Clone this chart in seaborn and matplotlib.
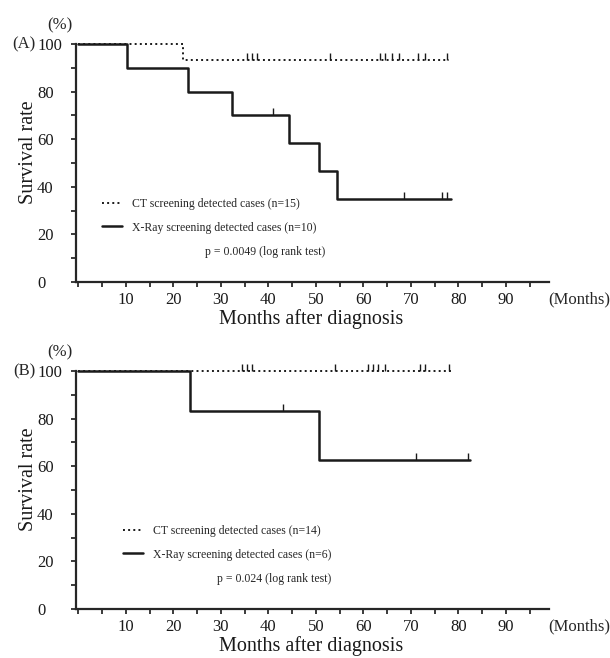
import matplotlib
matplotlib.use("Agg")
import matplotlib.pyplot as plt
from matplotlib.lines import Line2D
from matplotlib.ticker import MultipleLocator
import seaborn as sns

# (A) survival curves
a_ct_time = [0, 22, 78]
a_ct_surv = [100, 93.3, 93.3]
a_ct_cens = [35.5, 36.5, 37.5, 53, 63.5, 64.5, 66, 67.5, 71.5, 73, 77.5]
a_xr_time = [0, 10.3, 23, 32.3, 44.4, 50.6, 54.4, 78.5]
a_xr_surv = [100, 90, 80, 70, 58.3, 46.7, 35, 35]
a_xr_cens_t = [41, 68.5, 76.5, 77.5]
a_xr_cens_s = [70, 35, 35, 35]
a_labels = ["CT screening detected cases (n=15)",
            "X-Ray screening detected cases (n=10)",
            "p = 0.0049 (log rank test)"]

# (B)
b_ct_time = [0, 79]
b_ct_surv = [100, 100]
b_ct_cens = [34.5, 35.5, 36.5, 54, 61, 62, 63, 64.5, 72, 73, 78]
b_xr_time = [0, 23.5, 50.6, 82.5]
b_xr_surv = [100, 83.3, 62.5, 62.5]
b_xr_cens_t = [43, 71, 82]
b_xr_cens_s = [83.3, 62.5, 62.5]
b_labels = ["CT screening detected cases (n=14)",
            "X-Ray screening detected cases (n=6)",
            "p = 0.024 (log rank test)"]

xtick_vals = [10, 20, 30, 40, 50, 60, 70, 80, 90]
ytick_vals = [0, 20, 40, 60, 80, 100]

sns.set_theme(style="ticks")
plt.rcParams['font.family'] = ['Liberation Serif', 'DejaVu Serif']

W, H = 610, 658
fig = plt.figure(figsize=(W / 100, H / 100), dpi=100)
tick_mark = [(0, 0), (0, 1)]


def panel(top, ct_t, ct_s, ct_c, xr_t, xr_s, xr_ct, xr_cs, labels, tag, leg_x, p_x):
    ax = fig.add_axes([76 / W, 1 - (top + 238) / H, 472.75 / W, 238 / H])
    sns.lineplot(x=ct_t, y=ct_s, drawstyle="steps-post", color="k",
                 linestyle=":", linewidth=1.4, errorbar=None, ax=ax)
    sns.lineplot(x=xr_t, y=xr_s, drawstyle="steps-post", color="k",
                 linewidth=1.8, errorbar=None, ax=ax)
    sns.scatterplot(x=ct_c, y=[ct_s[-1]] * len(ct_c), marker=tick_mark, s=90,
                    color="k", edgecolor="k", linewidth=1.0, ax=ax)
    sns.scatterplot(x=xr_ct, y=xr_cs, marker=tick_mark, s=110,
                    color="k", edgecolor="k", linewidth=1.0, ax=ax)
    for art in ax.lines + ax.collections:
        art.set_clip_on(False)

    ax.set_xlim(-0.5, 99)
    ax.set_ylim(0, 100)
    sns.despine(ax=ax)
    for s in ["left", "bottom"]:
        ax.spines[s].set_linewidth(1.6)
    ax.set_xticks(xtick_vals)
    ax.set_xticklabels([str(v) for v in xtick_vals])
    ax.xaxis.set_minor_locator(MultipleLocator(5))
    ax.set_yticks(ytick_vals)
    ax.set_yticklabels([str(v) for v in ytick_vals])
    ax.yaxis.set_minor_locator(MultipleLocator(10))
    ax.tick_params(axis="both", which="both", direction="out", length=3.5,
                   width=1.2, color="k", labelsize=12, labelcolor="k")
    ax.tick_params(axis="x", which="major", pad=3.5)
    ax.tick_params(axis="y", which="major", pad=24.5)
    for lab in ax.get_yticklabels():
        lab.set_horizontalalignment("left")

    ax.set_xlabel("Months after diagnosis", fontsize=14.5, color="k")
    ax.xaxis.set_label_coords(0.497, -0.112)
    ax.set_ylabel("Survival rate", fontsize=14.5, color="k")
    ax.yaxis.set_label_coords(-0.08, 0.545)

    fig.text(548 / W, 1 - (top + 255) / H, "(Months)", fontsize=12,
             ha="left", va="center")
    fig.text(60 / W, 1 - (top - 19) / H, "(%)", fontsize=12, ha="center", va="center")
    fig.text(24 / W, 1 - top / H, tag, fontsize=12, ha="center", va="center")

    handles = [Line2D([], [], color="k", linestyle=":", linewidth=1.4),
               Line2D([], [], color="k", linewidth=1.8)]
    ax.legend(handles, labels[:2], loc="center left",
              bbox_to_anchor=(leg_x / W, 1 - (top + 172) / H),
              bbox_transform=fig.transFigure, frameon=False, fontsize=8.5,
              handlelength=1.7, handletextpad=0.85, labelspacing=0.95,
              borderpad=0, borderaxespad=0)
    fig.text(p_x / W, 1 - (top + 208) / H, labels[2], fontsize=8.5,
             ha="left", va="center")
    return ax


panel(44, a_ct_time, a_ct_surv, a_ct_cens, a_xr_time, a_xr_surv,
      a_xr_cens_t, a_xr_cens_s, a_labels, "(A)", 102, 205)
panel(371, b_ct_time, b_ct_surv, b_ct_cens, b_xr_time, b_xr_surv,
      b_xr_cens_t, b_xr_cens_s, b_labels, "(B)", 123, 217)

fig.savefig("out.png", dpi=100)
